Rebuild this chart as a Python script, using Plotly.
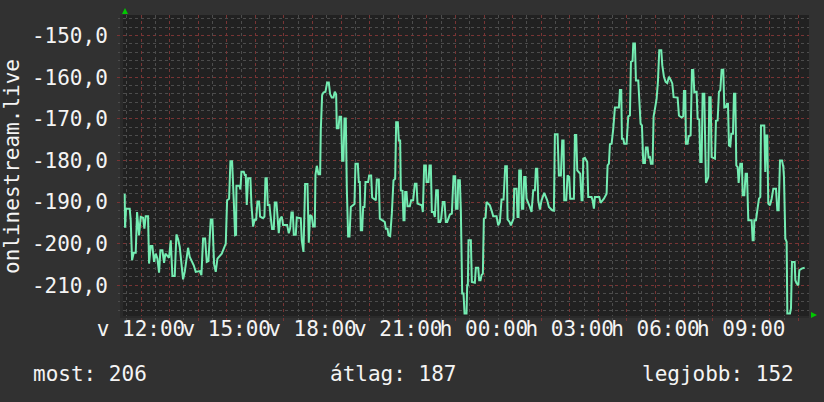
import plotly.graph_objects as go

# minutes relative to Sunday 12:00, and the measured value
minutes = [
    -34.2, -33.5, -31.4, -23.7, -21.6, -18.8, -15.3, -11.1, -8.3, -4.1, -0.6, 4.3, 7.1, 9.9, 14.8,
    16.9, 20.4, 23.9, 27.4, 30.9, 34.4, 37.9, 40.7, 44.9, 48.4, 51.2, 58.9, 62.4, 65.9, 70.8,
    74.3, 77.8, 81.3, 84.8, 88.3, 91.8, 95.3, 98.8, 102.3, 105.8, 110.7, 114.9, 123.3, 126.8,
    130.3, 134.5, 138.0, 141.5, 146.4, 149.9, 153.4, 156.9, 160.4, 169.5, 173.7, 177.9, 180.7,
    184.9, 187.7, 191.2, 194.7, 197.5, 199.6, 200.3, 206.6, 208.7, 210.8, 215.7, 217.8, 219.9,
    222.0, 224.8, 229.7, 231.8, 235.3, 238.8, 241.6, 244.4, 247.9, 250.0, 256.3, 259.1, 261.2,
    264.0, 266.1, 269.6, 271.7, 275.2, 278.7, 280.8, 284.3, 286.4, 289.2, 292.0, 295.5, 298.3,
    306.7, 310.2, 313.0, 315.8, 318.6, 320.7, 324.9, 327.0, 335.4, 337.5, 341.0, 344.5, 349.4,
    352.2, 355.0, 358.5, 361.3, 364.8, 366.2, 369.0, 372.5, 376.0, 377.4, 380.2, 383.0, 387.2,
    390.7, 394.2, 397.0, 400.5, 404.0, 406.8, 409.6, 411.0, 414.5, 416.6, 420.1, 422.2, 425.0,
    427.1, 429.9, 432.0, 434.8, 437.6, 440.4, 448.1, 450.2, 455.1, 457.2, 459.3, 461.4, 464.2,
    466.3, 469.1, 471.2, 476.8, 478.9, 483.1, 485.2, 492.9, 495.0, 499.2, 501.3, 511.8, 513.9,
    517.4, 519.5, 523.0, 526.5, 530.0, 533.5, 535.6, 539.1, 541.2, 544.0, 545.4, 548.9, 551.0,
    553.1, 554.5, 557.3, 559.4, 564.3, 567.1, 571.3, 574.8, 578.3, 580.4, 589.5, 591.6, 594.4,
    597.9, 599.3, 603.5, 605.6, 608.4, 610.5, 614.0, 616.8, 619.6, 623.1, 624.5, 628.0, 630.1,
    633.6, 637.1, 639.9, 642.7, 648.3, 652.5, 656.0, 659.5, 660.9, 664.4, 665.8, 669.3, 671.4,
    674.2, 677.0, 679.1, 683.3, 684.7, 686.1, 687.5, 692.4, 694.5, 700.8, 702.9, 707.8, 709.9,
    712.7, 714.8, 717.6, 719.7, 723.2, 725.3, 732.3, 735.8, 739.3, 746.3, 749.8, 753.3, 756.8,
    761.0, 764.5, 768.0, 769.4, 773.6, 776.4, 782.0, 783.4, 788.3, 790.4, 792.5, 793.9, 797.4,
    799.5, 802.3, 804.4, 807.2, 809.3, 816.3, 819.8, 823.3, 826.8, 828.9, 831.7, 833.8, 837.3,
    840.8, 846.4, 852.7, 856.2, 863.2, 866.7, 868.8, 874.4, 877.2, 881.4, 884.2, 887.0, 888.4,
    892.6, 895.4, 898.9, 901.0, 908.7, 910.8, 913.6, 915.7, 922.0, 924.8, 926.9, 928.3, 931.8,
    936.7, 938.8, 945.8, 947.9, 950.7, 952.8, 961.9, 964.7, 971.7, 977.3, 979.4, 982.2, 984.3,
    987.8, 991.3, 994.8, 1003.2, 1005.3, 1008.1, 1009.5, 1012.3, 1014.4, 1019.3, 1022.8, 1026.3,
    1028.4, 1031.9, 1033.3, 1036.8, 1038.9, 1043.8, 1045.9, 1048.7, 1051.5, 1054.3, 1057.8,
    1059.9, 1063.4, 1065.5, 1068.3, 1070.4, 1073.9, 1076.0, 1078.8, 1082.3, 1085.1, 1087.9,
    1092.1, 1094.2, 1097.7, 1101.2, 1104.7, 1108.2, 1111.7, 1115.2, 1118.0, 1126.4, 1129.2,
    1134.8, 1138.3, 1139.7, 1142.5, 1143.9, 1147.4, 1149.5, 1153.7, 1156.5, 1159.3, 1161.4,
    1164.9, 1166.3, 1168.4, 1171.9, 1174.0, 1176.8, 1178.9, 1182.4, 1183.8, 1185.9, 1190.8,
    1192.9, 1195.7, 1197.8, 1204.8, 1206.9, 1210.4, 1213.2, 1216.0, 1218.8, 1222.3, 1224.4,
    1227.9, 1230.0, 1232.1, 1234.2, 1237.0, 1239.1, 1242.6, 1244.7, 1247.5, 1249.6, 1252.4,
    1254.5, 1258.0, 1261.5, 1262.9, 1266.4, 1269.2, 1272.0, 1274.8, 1281.8, 1283.9, 1286.0,
    1287.4, 1290.9, 1293.7, 1297.2, 1300.0, 1301.4, 1308.3, 1310.4, 1312.5, 1314.6, 1316.7,
    1320.3, 1323.8, 1327.3, 1332.9, 1335.7, 1338.5, 1341.3, 1345.5, 1348.3, 1349.7, 1352.5,
    1355.3, 1356.7, 1362.3, 1364.4, 1366.5, 1372.1, 1373.5, 1376.3, 1379.8, 1381.9, 1386.8,
    1393.1,
]
values = [
    -188.0, -196.2, -191.6, -191.6, -194.4, -204.0, -202.2, -202.2, -192.4, -198.0, -193.6, -193.8, -196.4, -193.4, -193.4,
    -204.8, -200.6, -200.6, -204.4, -202.4, -203.6, -207.0, -201.6, -201.6, -204.6, -202.4, -203.4, -199.2, -207.8, -207.8,
    -197.8, -198.9, -200.8, -204.0, -208.6, -206.8, -203.2, -201.0, -203.2, -204.0, -205.2, -206.8, -206.6, -207.6,
    -198.8, -198.8, -204.4, -204.2, -194.2, -194.2, -205.0, -206.8, -203.6, -202.4, -201.4, -200.0, -189.6,
    -189.2, -180.2, -180.2, -189.6, -198.0, -197.9, -186.1, -186.1, -187.0, -182.7, -182.7, -183.5, -183.5,
    -190.7, -184.3, -184.3, -190.7, -195.9, -194.1, -194.4, -189.9, -189.9, -193.5, -193.9, -193.5, -184.3,
    -184.3, -190.7, -190.7, -193.1, -196.5, -196.5, -190.1, -190.1, -193.9, -197.5, -194.1, -193.5, -195.5,
    -195.5, -197.5, -196.3, -192.5, -192.5, -197.9, -197.9, -193.7, -193.9, -199.3, -202.0, -185.7, -185.7,
    -199.8, -193.1, -193.5, -195.9, -195.9, -183.5, -181.3, -183.3, -183.3, -172.7, -164.3, -163.7, -163.5,
    -161.3, -161.3, -164.1, -164.9, -164.9, -163.5, -164.1, -172.3, -172.3, -169.5, -169.5, -180.1, -180.1,
    -169.9, -169.9, -186.7, -198.3, -198.3, -191.2, -190.5, -180.8, -180.8, -185.2, -185.2, -196.8, -196.8,
    -191.2, -191.2, -185.2, -185.2, -183.6, -183.6, -188.9, -189.6, -184.6, -184.6, -194.0, -194.8, -196.4,
    -196.4, -198.0, -198.2, -192.8, -184.8, -184.4, -170.8, -170.8, -175.2, -175.2, -187.2, -187.3, -194.4,
    -194.4, -187.6, -187.6, -191.0, -191.0, -189.6, -189.6, -185.6, -185.6, -190.4, -190.8, -192.4, -181.2,
    -181.2, -185.2, -185.2, -181.2, -181.2, -192.4, -192.4, -193.6, -187.2, -187.2, -194.8, -194.8, -194.0,
    -190.0, -190.0, -194.8, -194.8, -193.0, -192.8, -183.8, -183.8, -191.6, -191.6, -184.8, -184.8, -192.0,
    -212.0, -212.0, -216.8, -216.8, -210.0, -210.0, -199.2, -199.2, -209.2, -209.4, -205.8, -205.8, -208.8,
    -208.8, -207.6, -207.2, -194.0, -193.8, -190.0, -190.8, -192.0, -193.4, -193.4, -195.6, -194.8, -189.4,
    -189.4, -181.4, -181.4, -194.2, -194.8, -195.6, -194.0, -186.8, -186.8, -193.6, -193.6, -182.4, -182.4,
    -191.6, -191.6, -184.0, -184.0, -189.2, -191.2, -192.4, -187.2, -187.2, -182.0, -182.0, -189.6, -191.8,
    -189.6, -187.8, -189.6, -191.2, -192.0, -192.1, -173.7, -173.7, -183.6, -183.6, -175.2, -175.2, -189.6,
    -189.6, -183.6, -184.0, -189.2, -189.2, -173.9, -173.9, -182.4, -183.2, -189.6, -189.6, -179.6, -179.4,
    -180.4, -188.8, -188.8, -189.6, -191.6, -188.8, -188.8, -190.2, -189.2, -188.0, -181.2, -180.8, -176.1,
    -176.0, -172.4, -167.3, -167.3, -163.1, -163.1, -174.8, -174.8, -176.0, -176.0, -169.4, -169.2,
    -156.3, -156.1, -151.9, -151.9, -160.8, -160.8, -166.4, -171.2, -171.6, -180.6, -180.6,
    -176.9, -176.9, -179.3, -179.2, -180.8, -180.8, -169.4, -167.6, -165.2, -161.1, -153.5,
    -153.5, -157.1, -159.9, -161.1, -161.4, -159.9, -160.6, -161.5, -164.8, -164.9, -169.2,
    -169.7, -169.4, -163.3, -163.3, -176.0, -176.0, -174.2, -174.0, -158.3, -158.3, -163.6,
    -163.5, -163.5, -170.0, -170.2, -180.4, -180.4, -164.0, -164.0, -172.8, -185.4, -184.0,
    -164.8, -164.8, -179.2, -179.6, -170.5, -170.4, -163.5, -163.1, -158.2, -158.2, -167.3,
    -167.2, -166.4, -166.4, -176.4, -176.6, -173.6, -173.6, -164.0, -164.0, -181.2, -181.6,
    -185.4, -180.8, -180.8, -188.4, -188.4, -183.2, -183.2, -194.4, -194.4, -199.2, -199.2,
    -194.4, -194.4, -192.0, -189.2, -188.8, -171.6, -171.6, -182.8, -174.0, -174.0, -190.4,
    -190.8, -189.2, -186.8, -186.8, -192.0, -192.0, -180.0, -180.0, -181.6, -184.0, -198.8,
    -199.6, -216.8, -216.8, -215.6, -204.4, -204.4, -208.8, -209.6, -210.0, -206.4, -206.0,
    -205.8,
]

x_label_minutes = [0, 180, 360, 540, 720, 900, 1080, 1260]
x_labels = ["v 12:00", "v 15:00", "v 18:00", "v 21:00", "h 00:00", "h 03:00", "h 06:00", "h 09:00"]
y_tick_values = [-150, -160, -170, -180, -190, -200, -210]
y_title = "onlinestream.live"
summary_texts = ["most: 206", "átlag: 187", "legjobb: 152"]

FONT = "DejaVu Sans Mono"
TXT = "#f4f4f4"
MAJOR = "#783434"
MINOR = "#4c4c4c"

hour_ticks = list(range(0, 1441, 60))
label_map = dict(zip(x_label_minutes, x_labels))
hour_text = [label_map.get(m, "") for m in hour_ticks]

fig = go.Figure()
fig.add_trace(go.Scatter(
    x=minutes, y=values, mode="lines",
    line=dict(color="#74ecb2", width=2),
    hoverinfo="skip", showlegend=False,
))

fig.update_layout(
    width=824, height=402,
    margin=dict(l=123, r=15, t=15, b=86),
    paper_bgcolor="#313131",
    plot_bgcolor="#212121",
    font=dict(family=FONT, size=21, color=TXT),
    showlegend=False,
)

fig.update_xaxes(
    range=[-37.8, 1402.2],
    tickmode="array", tickvals=hour_ticks, ticktext=hour_text,
    tickangle=0,
    showgrid=True, gridcolor=MAJOR, griddash="dot", gridwidth=1,
    ticks="outside", ticklen=3, tickcolor=MAJOR,
    minor=dict(dtick=30, tick0=0, showgrid=True, gridcolor=MINOR, griddash="dot",
               ticks="outside", ticklen=2, tickcolor=MINOR),
    showline=True, linecolor="#2a2a2a", linewidth=2,
    zeroline=False,
    tickfont=dict(family=FONT, size=21, color=TXT),
    ticklabelstandoff=-10,
)

fig.update_yaxes(
    range=[-217.4, -145.05],
    tickmode="array", tickvals=y_tick_values,
    ticktext=[f"{v:.1f}".replace(".", ",") for v in y_tick_values],
    showgrid=True, gridcolor=MAJOR, griddash="dot", gridwidth=1,
    ticks="outside", ticklen=3, tickcolor=MAJOR,
    minor=dict(dtick=2, tick0=0, showgrid=True, gridcolor=MINOR, griddash="dot",
               ticks="outside", ticklen=2, tickcolor=MINOR),
    showline=True, linecolor="#2a2a2a", linewidth=3,
    zeroline=False,
    tickfont=dict(family=FONT, size=21, color=TXT),
    ticklabelstandoff=5,
)

# axis title
fig.add_annotation(
    text=y_title, xref="paper", yref="paper",
    x=-0.162, y=0.498, xanchor="center", yanchor="middle",
    textangle=-90, showarrow=False,
    font=dict(family=FONT, size=21, color=TXT),
)

# summary line
fig.add_annotation(text=summary_texts[0], xref="paper", yref="paper",
                   x=-0.1335, y=-0.1927, xanchor="left", yanchor="middle",
                   showarrow=False, font=dict(family=FONT, size=21, color=TXT))
fig.add_annotation(text=summary_texts[1], xref="paper", yref="paper",
                   x=0.2988, y=-0.1927, xanchor="left", yanchor="middle",
                   showarrow=False, font=dict(family=FONT, size=21, color=TXT))
fig.add_annotation(text=summary_texts[2], xref="paper", yref="paper",
                   x=0.9810, y=-0.1927, xanchor="right", yanchor="middle",
                   showarrow=False, font=dict(family=FONT, size=21, color=TXT))

# axis arrows
fig.add_shape(type="path", xref="paper", yref="paper",
              xsizemode="pixel", ysizemode="pixel", xanchor=0, yanchor=1,
              path="M -1,1 L 5,1 L 2,7 Z", fillcolor="#00c800", line=dict(width=0))
fig.add_shape(type="path", xref="paper", yref="paper",
              xsizemode="pixel", ysizemode="pixel", xanchor=1, yanchor=0,
              path="M 2,4 L 2,-2 L 8,1 Z", fillcolor="#00c800", line=dict(width=0))

fig.write_html(
    "out.html",
    config={"displayModeBar": False},
    post_script="document.body.style.margin='0px';document.body.style.background='#313131';",
)
